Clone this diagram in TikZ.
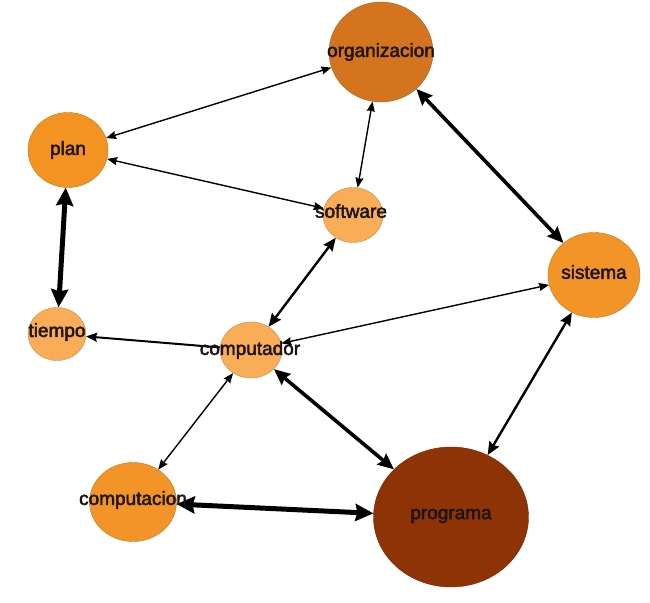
\documentclass[tikz,border=0pt]{standalone}
\usepackage{fontspec}
\setmainfont{Liberation Sans}
\newcommand\heavytext[1]{\special{pdf:code q 2 Tr 0.45 w}#1\special{pdf:code Q}}
\usetikzlibrary{arrows.meta,shapes.geometric}
\definecolor{cOrg}{HTML}{D4741F}
\definecolor{cPlan}{HTML}{F39321}
\definecolor{cLight}{HTML}{F9AD57}
\definecolor{cMid}{HTML}{F29428}
\definecolor{cProg}{HTML}{8E3305}
\definecolor{cTxt}{HTML}{1C1410}
\tikzset{
  vtx/.style={ellipse, inner sep=0pt, draw=#1!80!black, line width=0.4pt, fill=#1},
  lbl/.style={text=cTxt, font=\fontsize{19}{22}\selectfont, inner sep=0pt},
  thinE/.style={line width=1.4pt, {Stealth[length=10pt,width=8pt,inset=1pt]}-{Stealth[length=10pt,width=8pt,inset=1pt]}},
  midE/.style={line width=2.4pt, {Stealth[length=13pt,width=11pt,inset=1.5pt]}-{Stealth[length=13pt,width=11pt,inset=1.5pt]}},
  thickE/.style={line width=3.6pt, {Stealth[length=16pt,width=14pt,inset=2pt]}-{Stealth[length=16pt,width=14pt,inset=2pt]}},
  heavyE/.style={line width=5pt, {Stealth[length=18pt,width=17pt,inset=2pt]}-{Stealth[length=18pt,width=17pt,inset=2pt]}},
  oneE/.style={line width=2pt, -{Stealth[length=11pt,width=9pt,inset=1.5pt]}},
}
\begin{document}
\begin{tikzpicture}[x=1pt,y=-1pt]
\useasboundingbox (0,0) rectangle (650,602);
% nodes (shapes)
\node[vtx=cOrg, minimum width=104pt, minimum height=100pt] (org) at (381,52) {};
\node[vtx=cPlan, minimum width=80pt, minimum height=75pt] (plan) at (68,150) {};
\node[vtx=cLight, minimum width=60pt, minimum height=55pt] (soft) at (353,215) {};
\node[vtx=cMid, minimum width=92pt, minimum height=85pt] (sis) at (594,275) {};
\node[vtx=cLight, minimum width=58pt, minimum height=53pt] (tie) at (57,334) {};
\node[vtx=cLight, minimum width=62pt, minimum height=56pt] (comp) at (251,350) {};
\node[vtx=cMid, minimum width=87pt, minimum height=79pt] (cion) at (133,502) {};
\node[vtx=cProg, minimum width=155pt, minimum height=140pt] (prog) at (451,517) {};
% edges
\draw[thinE] (org) -- (plan);
\draw[thinE] (org) -- (soft);
\draw[thinE] (plan) -- (soft);
\draw[thickE] (org) -- (sis);
\draw[heavyE] (plan) -- (tie);
\draw[midE] (soft) -- (comp);
\draw[thinE] (sis) -- (comp);
\draw[midE] (sis) -- (prog);
\draw[oneE] (comp) -- (tie);
\draw[thinE] (comp) -- (cion);
\draw[thickE] (comp) -- (prog);
\draw[heavyE] (cion) -- (prog);
% labels
\node[lbl] (torg) at (381,52) {\heavytext{organizacion}};
\node[lbl] (tplan) at (68,150) {\heavytext{plan}};
\node[lbl] (tsoft) at (351,211) {\heavytext{software}};
\node[lbl] (tsis) at (594,272) {\heavytext{sistema}};
\node[lbl] (ttie) at (57,332) {\heavytext{tiempo}};
\node[lbl] (tcomp) at (250,350) {\heavytext{computador}};
\node[lbl] (tcion) at (133,500) {\heavytext{computacion}};
\node[lbl] (tprog) at (451,516) {\heavytext{programa}};
\end{tikzpicture}
\end{document}
